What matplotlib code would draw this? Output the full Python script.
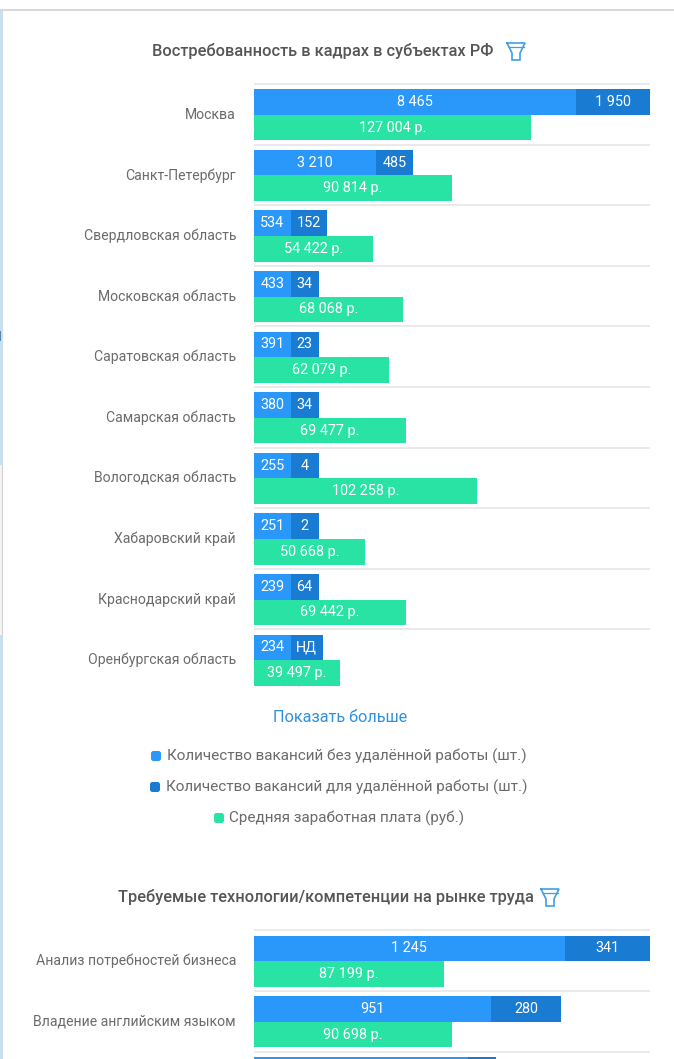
import matplotlib
matplotlib.use("Agg")
import matplotlib.pyplot as plt
from matplotlib.patches import FancyBboxPatch, Rectangle

W, H, DPI = 674, 1059, 100
FONT = ["Roboto", "DejaVu Sans"]

# Regions
regions = ["Москва", "Санкт-Петербург", "Свердловская область", "Московская область",
           "Саратовская область", "Самарская область", "Вологодская область",
           "Хабаровский край", "Краснодарский край", "Оренбургская область"]
regions_onsite = [8465, 3210, 534, 433, 391, 380, 255, 251, 239, 234]
regions_remote = [1950, 485, 152, 34, 23, 34, 4, 2, 64, None]
regions_salary = [127004, 90814, 54422, 68068, 62079, 69477, 102258, 50668, 69442, 39497]

# Skills; the third row runs off the bottom edge of the page
skills = ["Анализ потребностей бизнеса", "Владение английским языком", ""]
skills_onsite = [1245, 951, 857]
skills_remote = [341, 280, 97]
skills_salary = [87199, 90698, None]

legend_labels = ["Количество вакансий без удалённой работы (шт.)",
                 "Количество вакансий для удалённой работы (шт.)",
                 "Средняя заработная плата (руб.)"]
title_regions = "Востребованность в кадрах в субъектах РФ"
title_skills = "Требуемые технологии/компетенции на рынке труда"
more_label = "Показать больше"
no_data_label = "НД"

BLUE, DARK, GREEN = "#2a98fb", "#1a7bd3", "#29e3a4"
TEXT, TITLE, LINK, RULE = "#6b6b6b", "#555555", "#2f8fe2", "#e6e6e6"
ICON = "#3f9fe6"

PLOT_L, PLOT_R = 254, 650
PITCH = 60.6
SALARY_MAX = 181500  # salary value spanning the full bar track
VALUE_SIZE = 10.4


def fmt(v):
    return f"{v:,}".replace(",", " ")


def min_px(label):
    # Segments never get narrower than their caption plus padding
    return 36.5 if len(label) >= 3 else (32 if label == no_data_label else 28)


fig = plt.figure(figsize=(W / DPI, H / DPI), dpi=DPI, facecolor="white")

# Page chrome and captions, laid out in pixels
page = fig.add_axes([0, 0, 1, 1])
page.set_xlim(0, W)
page.set_ylim(H, 0)
page.axis("off")


def ptext(x, y, s, size=10, color=TEXT, ha="left", **kw):
    page.text(x, y, s, fontsize=size, color=color, ha=ha, va="center", family=FONT, **kw)


page.add_patch(Rectangle((0, 9), W, 1.6, color="#d9d9d9", lw=0))
page.add_patch(Rectangle((0, 10), 3, H, color="#c9dfee", lw=0))
page.add_patch(Rectangle((0, 465), 3.2, 170, color="#f4f4f4", lw=0))
page.add_patch(Rectangle((2.2, 465), 1, 170, color="#cfcfcf", lw=0))
page.add_patch(Rectangle((0, 331), 1.2, 10, color="#5f87ad", lw=0))


def funnel(cx, top):
    xs = [cx - 9, cx + 9, cx + 4, cx + 4, cx - 4, cx - 4, cx - 9]
    ys = [top, top, top + 10, top + 17, top + 17, top + 10, top]
    page.plot(xs, ys, color=ICON, lw=1.2, solid_joinstyle="miter")
    page.plot([cx - 7.5, cx + 7.5], [top + 3.5, top + 3.5], color=ICON, lw=0.9)


def marker(x, y, color):
    page.add_patch(FancyBboxPatch((x - 3.5, y - 3.5), 7, 7, boxstyle="round,pad=1.5,rounding_size=2.5",
                                  fc=color, ec="none"))


ptext(152, 51, title_regions, size=11.8, color=TITLE, weight="medium")
funnel(516, 43)
ptext(118, 897, title_skills, size=11.8, color=TITLE, weight="medium")
funnel(550, 889)
ptext(340, 717, more_label, size=11.7, color=LINK, ha="center")

legend_pos = [(156, 167, 756), (155, 166, 787), (219, 229, 818)]
for (mx, tx, y), lab, col in zip(legend_pos, legend_labels, [BLUE, DARK, GREEN]):
    marker(mx, y, col)
    ptext(tx, y, lab, size=10.95)


def draw_chart(top, names, onsite, remote, salary, total):
    n = len(names)
    rect = [PLOT_L / W, 1 - (top + n * PITCH) / H, (PLOT_R - PLOT_L) / W, n * PITCH / H]
    ax = fig.add_axes(rect, frameon=False)
    ax.set_xlim(0, total)
    ax.set_ylim(n, 0)
    ax.set_xticks([])
    ax.set_yticks([])
    ax.patch.set_alpha(0)
    sal = ax.twiny()
    sal.set_xlim(0, SALARY_MAX)
    sal.set_frame_on(False)
    sal.set_xticks([])

    per_px = total / (PLOT_R - PLOT_L)
    ax.hlines(list(range(n)), 0, total, color=RULE, lw=1.2, clip_on=False)

    blue_top, seg_h = 5.2 / PITCH, 25.6 / PITCH
    for i, name in enumerate(names):
        y_b, y_g = i + blue_top, i + blue_top + seg_h
        on_lab = fmt(onsite[i])
        re_lab = fmt(remote[i]) if remote[i] is not None else no_data_label
        w_on = max(onsite[i], min_px(on_lab) * per_px)
        w_re = max(remote[i] or 0, min_px(re_lab) * per_px)
        ax.barh(y_b, w_on, seg_h, align="edge", color=BLUE, lw=0)
        ax.barh(y_b, w_re, seg_h, left=w_on, align="edge", color=DARK, lw=0)
        if salary[i] is None:
            continue  # row is cut by the page edge, captions fall outside it
        ax.text(w_on / 2, y_b + seg_h / 2, on_lab, color="white", fontsize=VALUE_SIZE,
                ha="center", va="center", family=FONT)
        ax.text(w_on + w_re / 2, y_b + seg_h / 2, re_lab, color="white", fontsize=VALUE_SIZE,
                ha="center", va="center", family=FONT)
        sal.barh(y_g, salary[i], seg_h, align="edge", color=GREEN, lw=0)
        sal.text(salary[i] / 2, y_g + seg_h / 2, f"{fmt(salary[i])} р.", color="white", fontsize=VALUE_SIZE,
                 ha="center", va="center", family=FONT)
        ax.text(-18 * per_px, y_g, name, color=TEXT, fontsize=10.1, ha="right", va="center", family=FONT)
    sal.set_ylim(n, 0)


draw_chart(84, regions, regions_onsite, regions_remote, regions_salary,
           regions_onsite[0] + regions_remote[0])
draw_chart(930.3, skills, skills_onsite, skills_remote, skills_salary,
           skills_onsite[0] + skills_remote[0])

fig.savefig("out.png", dpi=DPI, facecolor="white")
